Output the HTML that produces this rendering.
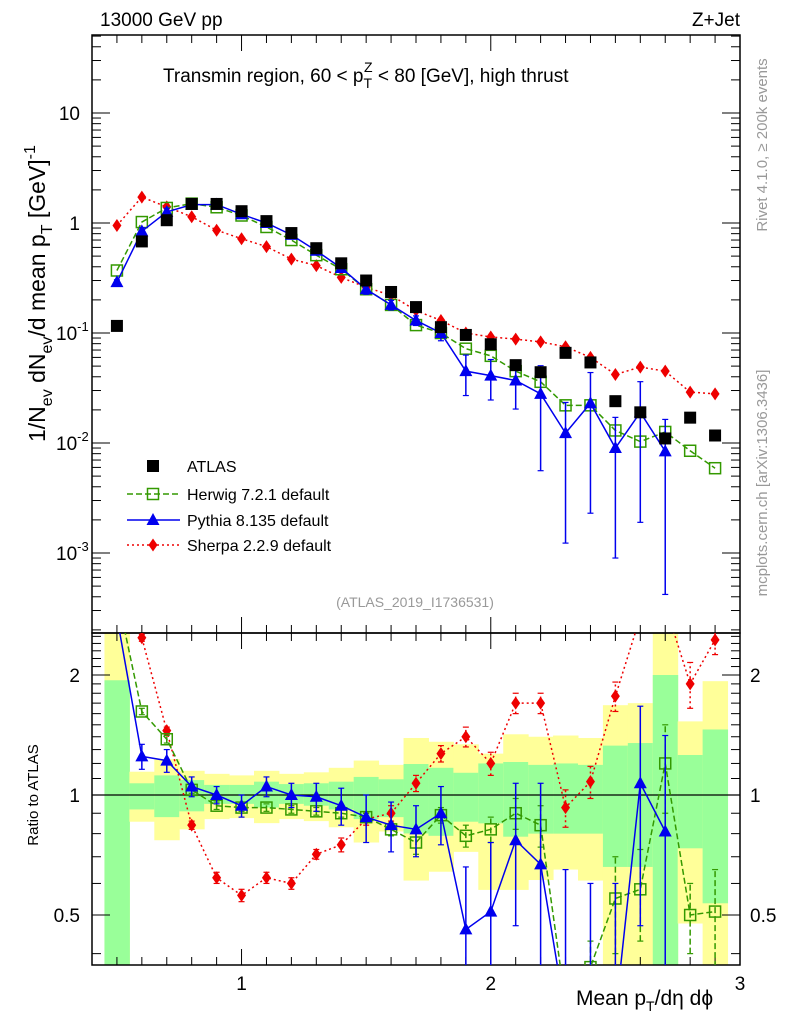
<!DOCTYPE html>
<html><head><meta charset="utf-8"><style>
html,body{margin:0;padding:0;background:#fff;overflow:hidden;width:786px;height:1024px;}
svg{display:block;font-family:"Liberation Sans",Arial,sans-serif;}
</style></head><body>
<svg id="c" width="786" height="1024" viewBox="0 0 786 1024" xmlns="http://www.w3.org/2000/svg"></svg>
<script>
const xCenters=[0.5,0.6,0.7,0.8,0.9,1.0,1.1,1.2,1.3,1.4,1.5,1.6,1.7,1.8,1.9,2.0,2.1,2.2,2.3,2.4,2.5,2.6,2.7,2.8,2.9];
const atlasVals=[0.116,0.68,1.06,1.49,1.49,1.28,1.04,0.81,0.59,0.43,0.30,0.236,0.172,0.113,0.096,0.079,0.051,0.044,0.066,0.054,0.024,0.019,0.011,0.017,0.0117];
const herwigVals=[0.37,1.02,1.37,1.5,1.39,1.17,0.92,0.70,0.51,0.38,0.25,0.18,0.118,0.1,0.072,0.062,0.045,0.036,0.022,0.022,0.013,0.0103,0.0126,0.0085,0.0059];
const pythiaVals=[0.29,0.84,1.26,1.47,1.47,1.2,1.0,0.78,0.56,0.39,0.25,0.18,0.13,0.1,0.045,0.041,0.037,0.028,0.0123,0.023,0.009,0.019,0.0084];
const sherpaVals=[0.95,1.72,1.4,1.14,0.86,0.72,0.61,0.47,0.41,0.32,0.26,0.22,0.16,0.13,0.1,0.092,0.088,0.083,0.075,0.06,0.042,0.049,0.045,0.029,0.028];
const pythiaRelErr=[0.05,0.08,0.08,0.06,0.06,0.06,0.06,0.07,0.08,0.09,0.1,0.1,0.1,0.15,0.4,0.4,0.45,0.8,0.9,0.9,0.9,0.9,0.95];
const herwigRatio=[3.2,1.62,1.38,1.03,0.94,0.93,0.93,0.92,0.91,0.9,0.88,0.82,0.76,0.89,0.79,0.82,0.9,0.84,0.3,0.37,0.55,0.58,1.2,0.5,0.51];
const herwigRatioErr=[0.05,0.03,0.03,0.02,0.02,0.02,0.02,0.02,0.02,0.02,0.02,0.03,0.05,0.04,0.05,0.06,0.08,0.1,0.05,0.06,0.15,0.15,0.3,0.1,0.14];
const pythiaRatio=[2.8,1.25,1.22,1.05,1.0,0.94,1.05,1.0,0.99,0.94,0.88,0.84,0.82,0.9,0.46,0.51,0.77,0.67,0.25,0.2,0.2,1.07,0.81];
const pythiaRatioErr=[0.1,0.09,0.08,0.06,0.05,0.06,0.06,0.07,0.08,0.1,0.12,0.12,0.12,0.15,0.2,0.25,0.3,0.4,0.4,0.4,0.4,0.6,0.6];
const sherpaRatio=[8,2.48,1.45,0.84,0.62,0.56,0.62,0.6,0.71,0.75,0.87,0.9,1.07,1.27,1.4,1.2,1.7,1.7,0.93,1.08,1.77,2.8,3.0,1.9,2.45];
const sherpaRatioErr=[0.1,0.05,0.03,0.02,0.02,0.02,0.02,0.02,0.02,0.03,0.03,0.04,0.05,0.06,0.08,0.08,0.1,0.1,0.1,0.1,0.15,0.2,0.2,0.25,0.2];
const yellowHi=[3,1.144,1.23,1.15,1.13,1.12,1.15,1.13,1.14,1.17,1.22,1.19,1.39,1.36,1.34,1.27,1.42,1.4,1.41,1.39,1.68,1.70,3,1.53,1.93];
const yellowLo=[0.3,0.857,0.77,0.82,0.87,0.875,0.85,0.87,0.86,0.83,0.76,0.81,0.61,0.642,0.72,0.578,0.578,0.612,0.65,0.61,0.3,0.3,0.3,0.476,0.3];
const greenHi=[1.94,1.07,1.12,1.09,1.06,1.06,1.08,1.065,1.07,1.08,1.11,1.095,1.196,1.17,1.137,1.2,1.21,1.19,1.2,1.19,1.33,1.35,2.0,1.26,1.46];
const greenLo=[0.3,0.92,0.88,0.91,0.95,0.95,0.93,0.95,0.94,0.92,0.87,0.88,0.801,0.79,0.857,0.849,0.786,0.8,0.8,0.8,0.66,0.66,0.3,0.735,0.535];
const xTickMajor=[1,2,3];
const mainYTicks=[0.001,0.01,0.1,1,10];
const mainYLabels=["10^-3","10^-2","10^-1","1","10"];
const ratioYTicks=[0.5,1,2];

const NS="http://www.w3.org/2000/svg";
const svg=document.getElementById('c');
const L=92,R=740,T=35,MB=633,RB=965;
const X=v=>L+(v-0.4)*(R-L)/2.6;
const YM=v=>Math.min(1020,Math.max(2,113-(Math.log10(v)-1)*110));
const YR=v=>Math.min(1015,Math.max(2,795-Math.log2(v)*120));
function el(tag,attrs,parent){const e=document.createElementNS(NS,tag);for(const k in attrs)e.setAttribute(k,attrs[k]);(parent||svg).appendChild(e);return e;}
function txt(s,x,y,attrs,parent){const t=el('text',Object.assign({x:x,y:y},attrs),parent);t.textContent=s;return t;}

const defs=el('defs',{});
const cm=el('clipPath',{id:'cm'},defs);el('rect',{x:L,y:T,width:R-L,height:MB-T},cm);
const cr=el('clipPath',{id:'cr'},defs);el('rect',{x:L,y:MB,width:R-L,height:RB-MB},cr);

const bands=el('g',{'clip-path':'url(#cr)'});


xCenters.forEach((c,i)=>{
  const y=el('rect',{x:X(c-0.05),y:YR(yellowHi[i]),width:X(c+0.05)-X(c-0.05)+0.5,height:YR(yellowLo[i])-YR(yellowHi[i]),fill:'#ffff99'},bands);
  
  
  const g=el('rect',{x:X(c-0.05),y:YR(greenHi[i]),width:X(c+0.05)-X(c-0.05)+0.5,height:YR(greenLo[i])-YR(greenHi[i]),fill:'#99ff99'},bands);
  
  
});
el('line',{x1:L,x2:R,y1:YR(1),y2:YR(1),stroke:'#000','stroke-width':1.2});

el('rect',{x:L,y:T,width:R-L,height:MB-T,fill:'none',stroke:'#000','stroke-width':1.5});
el('rect',{x:L,y:MB,width:R-L,height:RB-MB,fill:'none',stroke:'#000','stroke-width':1.5});

const ax=el('g',{stroke:'#000','stroke-width':1});
for(let k=5;k<=29;k++){const v=k/10;const maj=xTickMajor.some(m=>Math.abs(m-v)<1e-6);const len=maj?16:8;
  [[T,1],[MB,-1],[MB,1],[RB,-1]].forEach(([y0,d])=>el('line',{x1:X(v),x2:X(v),y1:y0,y2:y0+d*len},ax));}
xTickMajor.forEach(v=>{const t=txt(String(v),X(v),990,{'font-size':19,'text-anchor':'middle'});
  
  });
for(let e=-4;e<=1;e++){for(let m=1;m<=9;m++){const v=m*Math.pow(10,e);if(v<Math.pow(10,-3.73)||v>51)continue;const len=m==1?18:9;
  el('line',{x1:L,x2:L+len,y1:YM(v),y2:YM(v)},ax);el('line',{x1:R,x2:R-len,y1:YM(v),y2:YM(v)},ax);}}
mainYTicks.forEach((v,i)=>{const lab=mainYLabels[i];let t;
  if(lab.startsWith('10^')){t=txt('10',56,YM(v)+7,{'font-size':19});const s=el('tspan',{dy:-9,'font-size':13},t);s.textContent=lab.slice(3);}
  else t=txt(lab,80,YM(v)+7,{'font-size':19,'text-anchor':'end'});
  
  });
for(let k=4;k<=25;k++){const v=k/10;const maj=ratioYTicks.some(m=>Math.abs(m-v)<1e-6);const len=maj?18:9;if(v<0.376||v>2.54)continue;
  el('line',{x1:L,x2:L+len,y1:YR(v),y2:YR(v)},ax);el('line',{x1:R,x2:R-len,y1:YR(v),y2:YR(v)},ax);}
ratioYTicks.forEach(v=>{const s=v==0.5?'0.5':String(v);
  const a=txt(s,80,YR(v)+7,{'font-size':19,'text-anchor':'end'});
  
  
  const b=txt(s,750,YR(v)+7,{'font-size':19});
  
  });

function marker(kind,x,y,g){
  if(kind=='sq') return el('rect',{x:x-6,y:y-6,width:12,height:12,fill:'#000'},g);
  if(kind=='osq') return el('rect',{x:x-5.5,y:y-5.5,width:11,height:11,fill:'none',stroke:'#339900','stroke-width':1.5},g);
  if(kind=='tri') return el('path',{d:`M${x},${y-7}L${x+6.5},${y+5}L${x-6.5},${y+5}Z`,fill:'#0000ee'},g);
  if(kind=='dia') return el('path',{d:`M${x},${y-6.5}L${x+4.5},${y}L${x},${y+6.5}L${x-4.5},${y}Z`,fill:'#ee0000'},g);
}
function series(vals,fy,color,dash,kind,name,clip,errs,errMode){
  const g=el('g',{'clip-path':clip});
  
  
  const pts=vals.map((v,i)=>[X(xCenters[i]),fy(v)]);
  if(color) el('polyline',{points:pts.map(p=>p.join(',')).join(' '),fill:'none',stroke:color,'stroke-width':1.5,'stroke-dasharray':dash||'none'},g);
  if(errs) vals.forEach((v,i)=>{const e=errs[i];if(e==null)return;const lo=errMode=='rel'?v*(1-Math.min(e,0.95)):v-e;const hi=errMode=='rel'?v*(1+e):v+e;
    const x=X(xCenters[i]);el('line',{x1:x,x2:x,y1:fy(Math.max(lo,1e-5)),y2:fy(hi),stroke:color,'stroke-width':1.5,'stroke-dasharray':dash||'none'},g);
    [lo,hi].forEach(b=>el('line',{x1:x-3,x2:x+3,y1:fy(Math.max(b,1e-5)),y2:fy(Math.max(b,1e-5)),stroke:color,'stroke-width':1.2},g));});
  pts.forEach(p=>{const m=marker(kind,p[0],p[1],g);
    
    });
}
series(sherpaVals,YM,'#ee0000','2,3','dia','sherpa-main','url(#cm)');
series(herwigVals,YM,'#339900','6,3','osq','herwig-main','url(#cm)');
series(pythiaVals,YM,'#0000ee',null,'tri','pythia-main','url(#cm)',pythiaRelErr,'rel');
series(atlasVals,YM,null,null,'sq','atlas-data','url(#cm)');
series(sherpaRatio,YR,'#ee0000','2,3','dia','sherpa-ratio','url(#cr)',sherpaRatioErr,'abs');
series(herwigRatio,YR,'#339900','6,3','osq','herwig-ratio','url(#cr)',herwigRatioErr,'abs');
series(pythiaRatio,YR,'#0000ee',null,'tri','pythia-ratio','url(#cr)',pythiaRatioErr,'abs');

let t;
t=txt('13000 GeV pp',100,26,{'font-size':19});
t=txt('Z+Jet',740,26,{'font-size':19,'text-anchor':'end'});
t=txt('Transmin region, 60 < p',163,82,{'font-size':19});
{const s1=el('tspan',{'font-size':14,dy:6},t);s1.textContent='T';const s2=el('tspan',{'font-size':14,dy:-16,dx:-8},t);s2.textContent='Z';const s3=el('tspan',{dy:10},t);s3.textContent=' < 80 [GeV], high thrust';}

t=txt('(ATLAS_2019_I1736531)',415,607,{'font-size':14,fill:'#999','text-anchor':'middle'});
t=txt('Rivet 4.1.0, ≥ 200k events',0,0,{'font-size':15,fill:'#999','text-anchor':'middle',transform:'translate(767,145) rotate(-90)'});
t=txt('mcplots.cern.ch [arXiv:1306.3436]',0,0,{'font-size':15,fill:'#999','text-anchor':'middle',transform:'translate(767,483) rotate(-90)'});

const yt=el('text',{x:0,y:0,'font-size':23,transform:'translate(45,442) rotate(-90)'});


[['1/N',0],['ev',7,16],[' dN',-7],['ev',7,16],['/d mean p',-7],['T',7,16],[' [GeV]',-7],['-1',-10,16]].forEach(p=>{const sp=el('tspan',{dy:p[1]},yt);if(p[2])sp.setAttribute('font-size',p[2]);sp.textContent=p[0];});

t=txt('Ratio to ATLAS',0,0,{'font-size':15,'text-anchor':'middle',transform:'translate(38,795) rotate(-90)'});
t=txt('Mean p',576,1005,{'font-size':21});
{const s1=el('tspan',{'font-size':14,dy:6},t);s1.textContent='T';const s2=el('tspan',{dy:-6},t);s2.textContent='/dη dϕ';}


const lg=el('g',{});
const entries=[['sq',null,null,'ATLAS',466],['osq','#339900','6,3','Herwig 7.2.1 default',494],['tri','#0000ee',null,'Pythia 8.135 default',520],['dia','#ee0000','2,3','Sherpa 2.2.9 default',545]];
entries.forEach(e=>{const g=el('g',{},lg);
  if(e[1])el('line',{x1:127,x2:180,y1:e[4],y2:e[4],stroke:e[1],'stroke-width':1.5,'stroke-dasharray':e[2]||'none'},g);
  marker(e[0],153,e[4],g);txt(e[3],187,e[4]+6,{'font-size':16},g);});
</script>
</body></html>
